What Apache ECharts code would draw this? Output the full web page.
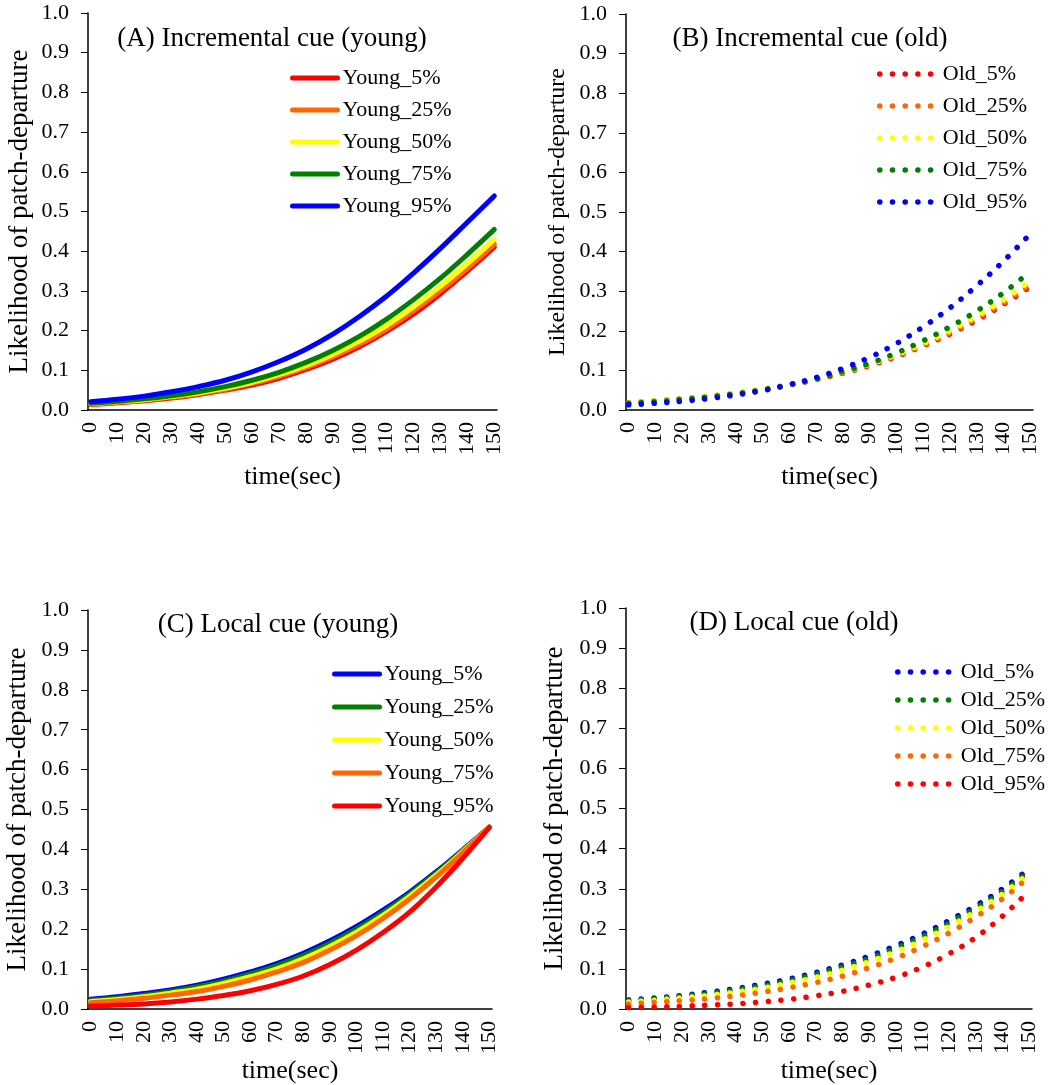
<!DOCTYPE html>
<html lang="en">
<head>
<meta charset="UTF-8">
<title>Likelihood of patch-departure</title>
<style>
    html, body { margin: 0; padding: 0; background: #fff; }
    #main { width: 1062px; height: 1085px; }
</style>
</head>
<body>
<div id="main"></div>
<script src="https://cdn.jsdelivr.net/npm/echarts@6/dist/echarts.min.js"></script>
<script>
// time points (sec)
var times = [0, 10, 20, 30, 40, 50, 60, 70, 80, 90, 100, 110, 120, 130, 140, 150];
// x axis categories, one every 2 sec
var categories = ['0','2','4','6','8','10','12','14','16','18','20','22','24','26','28','30','32','34','36','38',
    '40','42','44','46','48','50','52','54','56','58','60','62','64','66','68','70','72','74','76','78',
    '80','82','84','86','88','90','92','94','96','98','100','102','104','106','108','110','112','114','116','118',
    '120','122','124','126','128','130','132','134','136','138','140','142','144','146','148','150'];
var yTicks = [0, 0.1, 0.2, 0.3, 0.4, 0.5, 0.6, 0.7, 0.8, 0.9, 1.0];

// (A) Incremental cue (young)
var incYoung5  = [0.014, 0.018, 0.023, 0.030, 0.039, 0.050, 0.063, 0.080, 0.102, 0.128, 0.160, 0.198, 0.242, 0.293, 0.350, 0.410];
var incYoung25 = [0.015, 0.019, 0.025, 0.032, 0.041, 0.052, 0.067, 0.085, 0.107, 0.134, 0.166, 0.204, 0.250, 0.301, 0.357, 0.418];
var incYoung50 = [0.016, 0.021, 0.026, 0.034, 0.043, 0.055, 0.070, 0.089, 0.112, 0.140, 0.174, 0.213, 0.260, 0.312, 0.369, 0.430];
var incYoung75 = [0.017, 0.022, 0.028, 0.036, 0.046, 0.059, 0.075, 0.095, 0.120, 0.150, 0.186, 0.229, 0.278, 0.332, 0.392, 0.455];
var incYoung95 = [0.021, 0.027, 0.035, 0.046, 0.059, 0.075, 0.096, 0.122, 0.153, 0.191, 0.236, 0.287, 0.345, 0.407, 0.473, 0.539];

// (B) Incremental cue (old)
var incOld5  = [0.018, 0.023, 0.028, 0.034, 0.042, 0.051, 0.063, 0.077, 0.093, 0.112, 0.135, 0.162, 0.192, 0.227, 0.267, 0.312];
var incOld25 = [0.018, 0.023, 0.028, 0.035, 0.042, 0.052, 0.063, 0.077, 0.094, 0.114, 0.137, 0.164, 0.195, 0.231, 0.271, 0.317];
var incOld50 = [0.018, 0.023, 0.028, 0.035, 0.043, 0.053, 0.064, 0.079, 0.096, 0.116, 0.140, 0.168, 0.200, 0.237, 0.278, 0.326];
var incOld75 = [0.017, 0.021, 0.027, 0.033, 0.041, 0.051, 0.064, 0.078, 0.097, 0.118, 0.144, 0.175, 0.210, 0.250, 0.296, 0.350];
var incOld95 = [0.013, 0.017, 0.022, 0.029, 0.038, 0.049, 0.064, 0.082, 0.105, 0.133, 0.168, 0.210, 0.258, 0.314, 0.376, 0.445];

// (C) Local cue (young)
var locYoung5  = [0.025, 0.031, 0.039, 0.048, 0.060, 0.075, 0.093, 0.114, 0.140, 0.171, 0.207, 0.248, 0.293, 0.344, 0.399, 0.456];
var locYoung25 = [0.022, 0.028, 0.035, 0.044, 0.056, 0.070, 0.088, 0.109, 0.134, 0.165, 0.201, 0.242, 0.289, 0.341, 0.397, 0.456];
var locYoung50 = [0.019, 0.024, 0.031, 0.040, 0.050, 0.064, 0.081, 0.101, 0.126, 0.157, 0.193, 0.235, 0.283, 0.336, 0.395, 0.456];
var locYoung75 = [0.016, 0.021, 0.027, 0.035, 0.044, 0.057, 0.073, 0.093, 0.117, 0.148, 0.184, 0.227, 0.276, 0.331, 0.392, 0.456];
var locYoung95 = [0.008, 0.010, 0.013, 0.018, 0.025, 0.034, 0.046, 0.062, 0.083, 0.112, 0.148, 0.192, 0.243, 0.306, 0.378, 0.455];

// (D) Local cue (old)
var locOld5  = [0.023, 0.028, 0.034, 0.042, 0.051, 0.062, 0.075, 0.091, 0.110, 0.132, 0.158, 0.187, 0.221, 0.258, 0.300, 0.350];
var locOld25 = [0.021, 0.026, 0.032, 0.039, 0.048, 0.058, 0.071, 0.087, 0.105, 0.126, 0.152, 0.181, 0.215, 0.252, 0.294, 0.345];
var locOld50 = [0.018, 0.022, 0.028, 0.034, 0.042, 0.052, 0.065, 0.079, 0.097, 0.118, 0.143, 0.172, 0.206, 0.244, 0.287, 0.339];
var locOld75 = [0.013, 0.017, 0.021, 0.026, 0.033, 0.042, 0.053, 0.066, 0.082, 0.103, 0.127, 0.156, 0.190, 0.230, 0.275, 0.330];
var locOld95 = [0.004, 0.005, 0.007, 0.010, 0.013, 0.018, 0.024, 0.033, 0.044, 0.060, 0.079, 0.105, 0.138, 0.179, 0.232, 0.295];

var RED = '#ff0000', ORANGE = '#ff6600', YELLOW = '#ffff00', GREEN = '#008000', BLUE = '#0000ff';
var FONT = 'Liberation Serif';
var dotDash = [0.1, 12.6];

// build [category, value] pairs and a line series on one grid
function lineSeries(name, color, values, idx, dotted) {
    var pts = times.map(function (t, i) { return [String(t), values[i]]; });
    return {
        name: name, type: 'line', xAxisIndex: idx, yAxisIndex: idx,
        data: pts, smooth: 0.4, symbol: 'none', animation: false,
        itemStyle: { color: color },
        lineStyle: dotted
            ? { color: color, width: 5.5, type: dotDash, cap: 'round' }
            : { color: color, width: 5, cap: 'round' }
    };
}

function xAxisFor(idx, gap) {
    return {
        type: 'category', gridIndex: idx, data: categories, boundaryGap: true,
        name: 'time(sec)', nameLocation: 'middle', nameGap: gap,
        nameTextStyle: { fontSize: 26, color: '#000', fontFamily: FONT },
        axisLine: { lineStyle: { color: '#000', width: 1.5 } },
        axisTick: { interval: 0, length: 6, lineStyle: { color: '#000', width: 1 } },
        axisLabel: { interval: 4, rotate: 90, fontSize: 22, color: '#000', margin: 12, fontFamily: FONT },
        splitLine: { show: false }
    };
}

function yAxisFor(idx, nameSize, gap) {
    return {
        type: 'value', gridIndex: idx, min: yTicks[0], max: yTicks[yTicks.length - 1], interval: 0.1,
        name: 'Likelihood of patch-departure', nameLocation: 'middle', nameGap: gap,
        nameTextStyle: { fontSize: nameSize, color: '#000', fontFamily: FONT },
        axisLine: { show: true, lineStyle: { color: '#000', width: 1.5 } },
        axisTick: { show: true, length: 7, lineStyle: { color: '#000', width: 1 } },
        axisLabel: { fontSize: 22, color: '#000', margin: 19, fontFamily: FONT,
            formatter: function (v) { return v.toFixed(1); } },
        splitLine: { show: false }
    };
}

function legendFor(names, left, top, gap, dotted) {
    var ls = dotted ? { width: 5.5, type: dotDash, cap: 'round' } : { width: 5, cap: 'round' };
    return {
        orient: 'vertical', left: left, top: top, padding: 0,
        itemWidth: dotted ? 58 : 45, itemHeight: 14, itemGap: gap,
        data: names, lineStyle: ls,
        itemStyle: { opacity: 0 },
        textStyle: { fontSize: 22, color: '#000', fontFamily: FONT, lineHeight: 24 },
        formatter: function (n) { return n.split('|')[0]; },
        selectedMode: false
    };
}

function titleFor(text, cx, top) {
    return { text: text, left: cx, top: top, textAlign: 'center', padding: 0,
        textStyle: { fontSize: 27, fontWeight: 'normal', color: '#000', fontFamily: FONT } };
}

var chart = echarts.init(document.getElementById('main'), null, { renderer: 'canvas' });

var aNames = ['Young_5%|A', 'Young_25%|A', 'Young_50%|A', 'Young_75%|A', 'Young_95%|A'];
var bNames = ['Old_5%|B', 'Old_25%|B', 'Old_50%|B', 'Old_75%|B', 'Old_95%|B'];
var cNames = ['Young_5%|C', 'Young_25%|C', 'Young_50%|C', 'Young_75%|C', 'Young_95%|C'];
var dNames = ['Old_5%|D', 'Old_25%|D', 'Old_50%|D', 'Old_75%|D', 'Old_95%|D'];

chart.setOption({
    backgroundColor: '#fff',
    animation: false,
    textStyle: { fontFamily: FONT },
    title: [
        titleFor('(A) Incremental cue (young)', 272, 25),
        titleFor('(B) Incremental cue (old)', 810, 25),
        titleFor('(C) Local cue (young)', 278, 611),
        titleFor('(D) Local cue (old)', 794, 609)
    ],
    legend: [
        legendFor(aNames, 290, 66, 8, false),
        legendFor(bNames, 877, 62, 8, true),
        legendFor(cNames, 332, 662, 9, false),
        legendFor(dNames, 895, 660, 4, true)
    ],
    grid: [
        { left: 88, top: 13, width: 409, height: 397 },
        { left: 626, top: 14, width: 407, height: 396 },
        { left: 88, top: 610, width: 404, height: 407 },
        { left: 626, top: 608, width: 406, height: 409 }
    ],
    xAxis: [xAxisFor(0, 54), xAxisFor(1, 54), xAxisFor(2, 40), xAxisFor(3, 38)],
    yAxis: [yAxisFor(0, 27, 55), yAxisFor(1, 24, 56), yAxisFor(2, 27, 57), yAxisFor(3, 27, 58)],
    series: [
        lineSeries(aNames[0], RED, incYoung5, 0, false),
        lineSeries(aNames[1], ORANGE, incYoung25, 0, false),
        lineSeries(aNames[2], YELLOW, incYoung50, 0, false),
        lineSeries(aNames[3], GREEN, incYoung75, 0, false),
        lineSeries(aNames[4], BLUE, incYoung95, 0, false),

        lineSeries(bNames[0], RED, incOld5, 1, true),
        lineSeries(bNames[1], ORANGE, incOld25, 1, true),
        lineSeries(bNames[2], YELLOW, incOld50, 1, true),
        lineSeries(bNames[3], GREEN, incOld75, 1, true),
        lineSeries(bNames[4], BLUE, incOld95, 1, true),

        lineSeries(cNames[0], BLUE, locYoung5, 2, false),
        lineSeries(cNames[1], GREEN, locYoung25, 2, false),
        lineSeries(cNames[2], YELLOW, locYoung50, 2, false),
        lineSeries(cNames[3], ORANGE, locYoung75, 2, false),
        lineSeries(cNames[4], RED, locYoung95, 2, false),

        lineSeries(dNames[0], BLUE, locOld5, 3, true),
        lineSeries(dNames[1], GREEN, locOld25, 3, true),
        lineSeries(dNames[2], YELLOW, locOld50, 3, true),
        lineSeries(dNames[3], ORANGE, locOld75, 3, true),
        lineSeries(dNames[4], RED, locOld95, 3, true)
    ]
});
</script>
</body>
</html>
